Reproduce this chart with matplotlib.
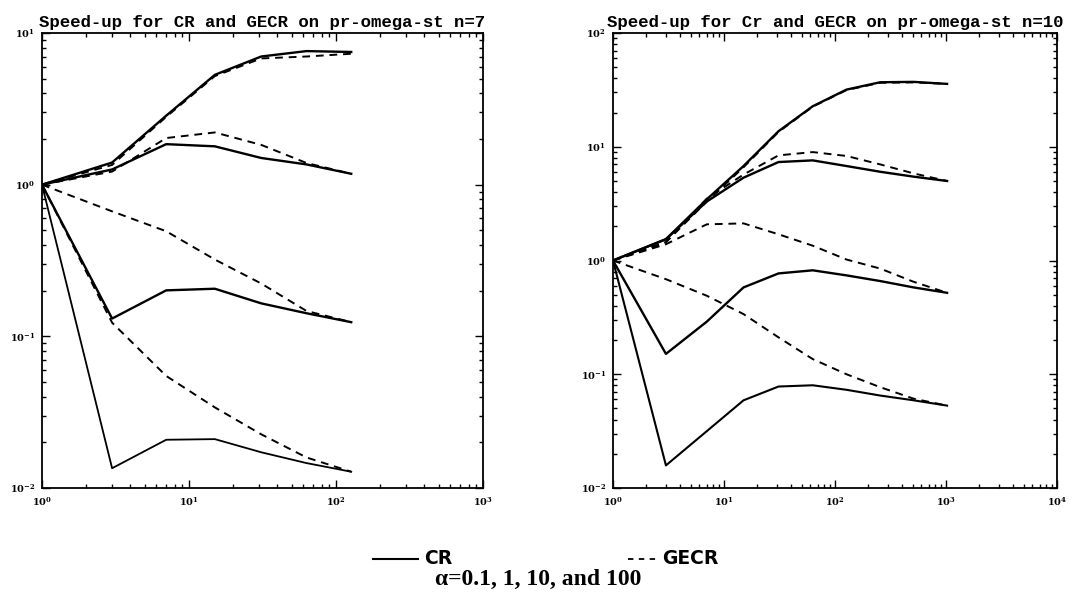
import matplotlib
matplotlib.use("Agg")
import matplotlib.pyplot as plt
import numpy as np
from matplotlib.lines import Line2D
from matplotlib.ticker import LogLocator, FuncFormatter, NullFormatter

plt.rcParams['mathtext.fontset'] = 'dejavuserif'

# n=7 panel
x7 = [1, 3, 7, 15, 31, 63, 127]
cr7_100 = [1, 1.40, 2.85, 5.3, 7.0, 7.6, 7.5]
gecr7_100 = [1, 1.35, 2.8, 5.2, 6.8, 7.0, 7.3]
cr7_10 = [1, 1.26, 1.85, 1.79, 1.50, 1.36, 1.18]
gecr7_10 = [1, 1.22, 2.03, 2.21, 1.83, 1.39, 1.18]
cr7_1 = [1, 0.131, 0.201, 0.206, 0.165, 0.142, 0.124]
gecr7_1 = [1, 0.667, 0.493, 0.321, 0.223, 0.147, 0.124]
cr7_01 = [1, 0.0135, 0.0208, 0.021, 0.0172, 0.0146, 0.0128]
gecr7_01 = [1, 0.123, 0.0548, 0.034, 0.0226, 0.0159, 0.0128]

# n=10 panel
x10 = [1, 3, 7, 15, 31, 63, 127, 255, 511, 1023]
cr10_100 = [1, 1.54, 3.45, 6.77, 13.7, 22.7, 31.8, 36.9, 37.2, 35.7]
gecr10_100 = [1, 1.45, 3.3, 6.6, 13.5, 22.5, 31.5, 36.5, 36.8, 35.7]
cr10_10 = [1, 1.54, 3.3, 5.35, 7.34, 7.59, 6.77, 6.03, 5.46, 5.0]
gecr10_10 = [1, 1.45, 3.5, 5.7, 8.4, 8.98, 8.3, 7.0, 5.83, 5.0]
cr10_1 = [1, 0.151, 0.29, 0.58, 0.77, 0.82, 0.74, 0.66, 0.58, 0.52]
gecr10_1 = [1, 1.39, 2.08, 2.12, 1.70, 1.35, 1.02, 0.85, 0.65, 0.52]
cr10_01 = [1, 0.0158, 0.0316, 0.059, 0.078, 0.080, 0.073, 0.065, 0.059, 0.053]
gecr10_01 = [1, 0.685, 0.49, 0.338, 0.211, 0.136, 0.10, 0.077, 0.061, 0.053]

titles = ["Speed-up for CR and GECR on pr-omega-st n=7",
          "Speed-up for Cr and GECR on pr-omega-st n=10"]

dash = (0, (4, 3))


def pow_fmt(v, pos):
    e = int(round(np.log10(v)))
    return r'$\mathbf{10^{%d}}$' % e


def style_axes(ax, xmax, ymin, ymax):
    ax.set_xscale('log')
    ax.set_yscale('log')
    ax.set_xlim(1, xmax)
    ax.set_ylim(ymin, ymax)
    ax.xaxis.set_major_locator(LogLocator(base=10))
    ax.yaxis.set_major_locator(LogLocator(base=10))
    ax.xaxis.set_minor_locator(LogLocator(base=10, subs=np.arange(2, 10)))
    ax.yaxis.set_minor_locator(LogLocator(base=10, subs=np.arange(2, 10)))
    ax.xaxis.set_major_formatter(FuncFormatter(pow_fmt))
    ax.yaxis.set_major_formatter(FuncFormatter(pow_fmt))
    ax.xaxis.set_minor_formatter(NullFormatter())
    ax.yaxis.set_minor_formatter(NullFormatter())
    ax.tick_params(which='both', direction='in', top=True, right=True,
                   labelsize=7, width=1)
    ax.tick_params(which='major', length=6)
    ax.tick_params(which='minor', length=3)
    ax.tick_params(axis='x', which='major', pad=5)
    ax.tick_params(axis='y', which='major', pad=5)
    for s in ax.spines.values():
        s.set_linewidth(1.3)


fig = plt.figure(figsize=(10.79, 6.16), dpi=100)
ax1 = fig.add_axes([0.0389, 0.2078, 0.4087, 0.7386])
ax2 = fig.add_axes([0.5681, 0.2078, 0.4115, 0.7386])

k = 'black'
ax1.plot(x7, cr7_100, color=k, lw=1.7)
ax1.plot(x7, gecr7_100, color=k, lw=1.4, linestyle=dash)
ax1.plot(x7, cr7_10, color=k, lw=1.7)
ax1.plot(x7, gecr7_10, color=k, lw=1.4, linestyle=dash)
ax1.plot(x7, cr7_1, color=k, lw=1.7)
ax1.plot(x7, gecr7_1, color=k, lw=1.4, linestyle=dash)
ax1.plot(x7, cr7_01, color=k, lw=1.3)
ax1.plot(x7, gecr7_01, color=k, lw=1.4, linestyle=dash)
style_axes(ax1, 1000, 0.01, 10)

ax2.plot(x10, cr10_100, color=k, lw=1.7)
ax2.plot(x10, gecr10_100, color=k, lw=1.4, linestyle=dash)
ax2.plot(x10, cr10_10, color=k, lw=1.7)
ax2.plot(x10, gecr10_10, color=k, lw=1.4, linestyle=dash)
ax2.plot(x10, cr10_1, color=k, lw=1.7)
ax2.plot(x10, gecr10_1, color=k, lw=1.4, linestyle=dash)
ax2.plot(x10, cr10_01, color=k, lw=1.5)
ax2.plot(x10, gecr10_01, color=k, lw=1.4, linestyle=dash)
style_axes(ax2, 10000, 0.01, 100)

for ax, t in zip([ax1, ax2], titles):
    ax.set_title(t, fontsize=12.5, family='Liberation Mono', weight='bold',
                 pad=4)

# legend below the panels
fig.add_artist(Line2D([373 / 1079, 418 / 1079], [1 - 559 / 616] * 2,
                      color=k, lw=1.5))
fig.text(424 / 1079, 1 - 559 / 616, "CR", fontsize=13.5, weight='bold',
         family='DejaVu Sans', va='center', ha='left')
fig.add_artist(Line2D([628 / 1079, 658 / 1079], [1 - 559 / 616] * 2,
                      color=k, lw=1.3, linestyle=(0, (3, 3))))
fig.text(662 / 1079, 1 - 559 / 616, "GECR", fontsize=13.5, weight='bold',
         family='DejaVu Sans', va='center', ha='left')
fig.text(538 / 1079, 1 - 579 / 616, "\u03b1=0.1, 1, 10, and 100",
         fontsize=17, weight='bold', family='Liberation Serif',
         va='center', ha='center')

plt.savefig("out.png", dpi=100)
